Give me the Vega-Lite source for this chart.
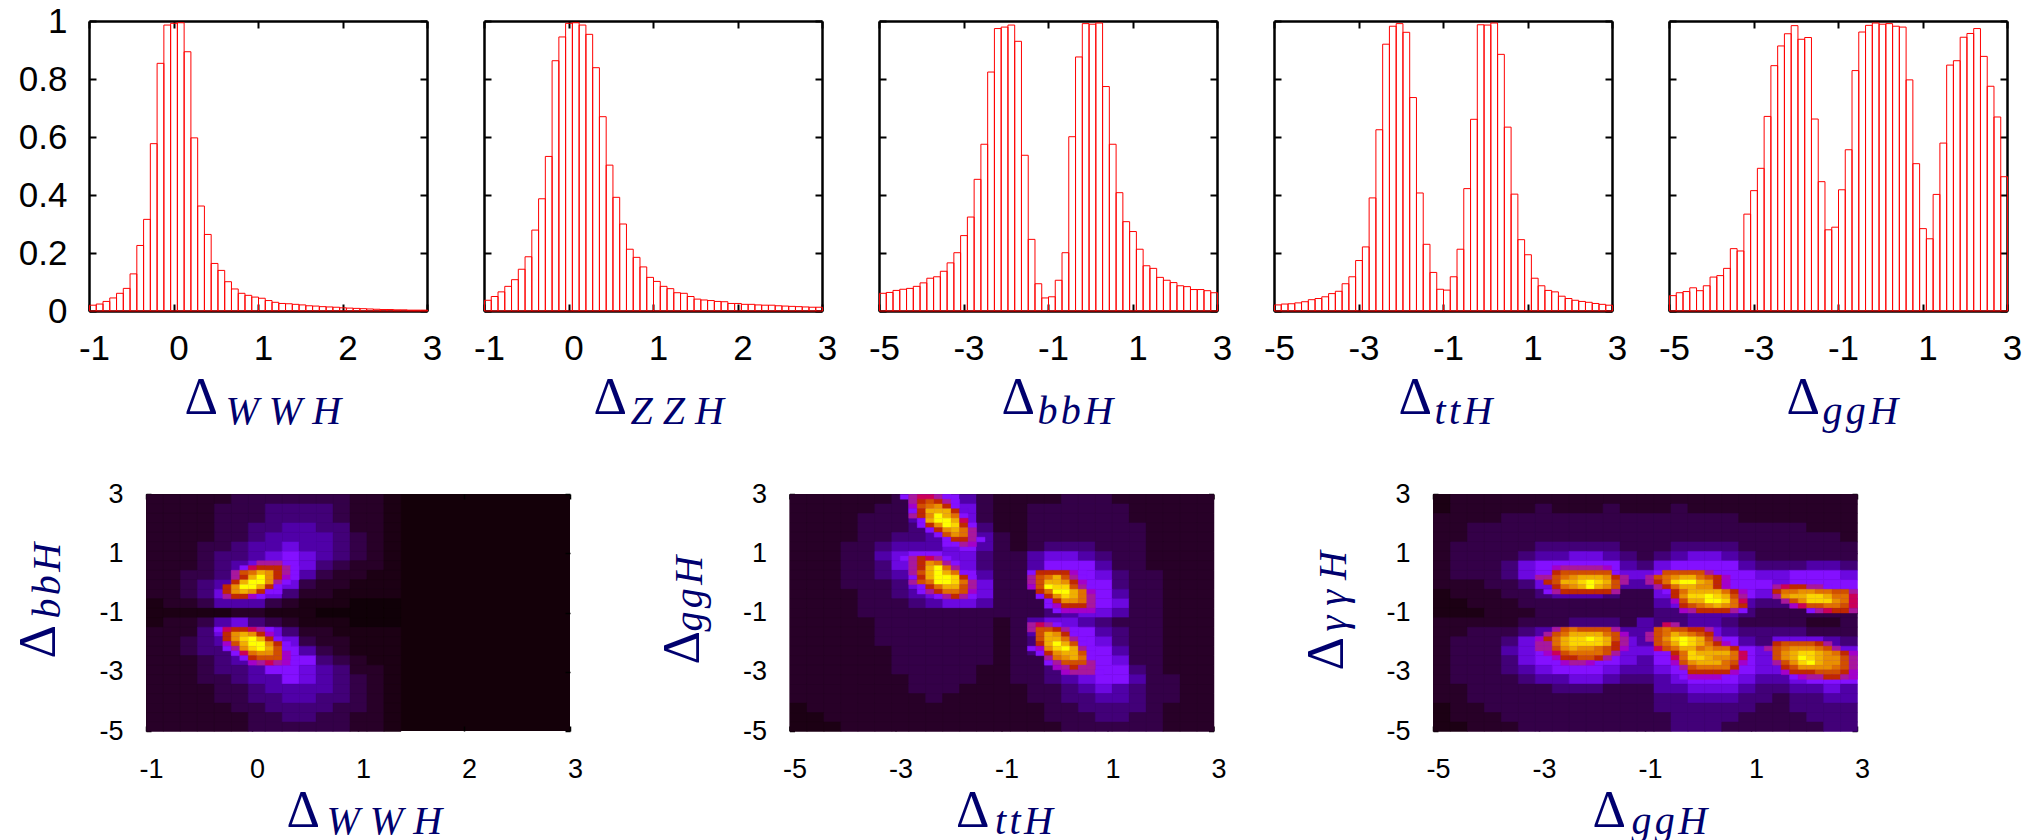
{"$schema":"https://vega.github.io/schema/vega-lite/v6.json","padding":{"left":12,"top":4,"right":0,"bottom":0},"background":"white","bounds":"flush","spacing":473,
"config":{"view":{"stroke":null},
"axis":{"grid":false,"labelFlush":false,"labelOverlap":false,"labelFont":"Liberation Sans","labelColor":"black","labelFontSize":35,"tickColor":"black","tickSize":-7,"tickWidth":2,"domainColor":"black","domainWidth":2.5,"zindex":1,"titleFont":"Liberation Serif","titleFontWeight":"normal","titleColor":"#00006e","titleAlign":"left","titleBaseline":"alphabetic"},
"axisBottom":{"labelOffset":5,"labelPadding":27,"titleFontSize":52},
"axisLeft":{"labelPadding":29,"titleFontSize":52,"titleAngle":270},
"axisTop":{"labels":false,"titleFontSize":40,"titleFontStyle":"italic"},
"axisRight":{"labels":false,"titleFontSize":40,"titleFontStyle":"italic","titleAngle":270}},
"vconcat":[
{"bounds":"flush","spacing":57,"hconcat":[
{"width":338,"height":290,"data":{"format":{"parse":null},"values":[{"x":[-0.96,-0.88,-0.8,-0.72,-0.64,-0.56,-0.48,-0.4,-0.32,-0.24,-0.16,-0.08,0,0.08,0.16,0.24,0.32,0.4,0.48,0.56,0.64,0.72,0.8,0.88,0.96,1.04,1.12,1.2,1.28,1.36,1.44,1.52,1.6,1.68,1.76,1.84,1.92,2,2.08,2.16,2.24,2.32,2.4,2.48,2.56,2.64,2.72,2.8,2.88,2.96],"y":[0.02,0.024,0.033,0.045,0.061,0.078,0.128,0.226,0.316,0.577,0.854,0.986,0.992,0.994,0.894,0.597,0.362,0.264,0.164,0.14,0.101,0.076,0.061,0.054,0.048,0.044,0.036,0.03,0.026,0.025,0.023,0.021,0.018,0.017,0.015,0.014,0.013,0.011,0.01,0.009,0.008,0.007,0.006,0.005,0.005,0.004,0.004,0.003,0.003,0.003]}]},"transform":[{"flatten":["x","y"]}],"resolve":{"axis":{"x":"independent","y":"independent"}},
"layer":[
{"mark":{"type":"bar","filled":false,"stroke":"#ff0000","strokeWidth":1,"binSpacing":0},"encoding":{"x":{"field":"x","type":"quantitative","bin":{"step":0.08,"extent":[-1,3],"anchor":-1},"scale":{"domain":[-1,3],"nice":false},"axis":{"orient":"bottom","values":[-1,0,1,2,3],"labelExpr":"''+datum.value","title":"Δ","titleX":95,"titleY":102}},"y":{"field":"y","type":"quantitative","scale":{"domain":[0,1],"nice":false},"axis":{"orient":"left","values":[0,0.2,0.4,0.6,0.8,1],"labelExpr":"''+datum.value","title":null}}}},
{"mark":{"type":"bar","opacity":0,"binSpacing":0},"encoding":{"x":{"field":"x","type":"quantitative","bin":{"step":0.08,"extent":[-1,3],"anchor":-1},"axis":{"orient":"top","values":[-1,0,1,2,3],"title":"W\u2005W\u2005H","titleX":136,"titleY":402}},"y":{"field":"y","type":"quantitative","axis":{"orient":"right","values":[0,0.2,0.4,0.6,0.8,1],"title":null}}}}
]},
{"width":338,"height":290,"data":{"format":{"parse":null},"values":[{"x":[-0.96,-0.88,-0.8,-0.72,-0.64,-0.56,-0.48,-0.4,-0.32,-0.24,-0.16,-0.08,0,0.08,0.16,0.24,0.32,0.4,0.48,0.56,0.64,0.72,0.8,0.88,0.96,1.04,1.12,1.2,1.28,1.36,1.44,1.52,1.6,1.68,1.76,1.84,1.92,2,2.08,2.16,2.24,2.32,2.4,2.48,2.56,2.64,2.72,2.8,2.88,2.96],"y":[0.037,0.05,0.066,0.085,0.108,0.144,0.187,0.279,0.387,0.533,0.863,0.945,0.992,0.994,0.986,0.954,0.839,0.67,0.503,0.392,0.3,0.213,0.185,0.152,0.116,0.102,0.085,0.077,0.063,0.061,0.05,0.041,0.038,0.036,0.033,0.032,0.026,0.026,0.023,0.023,0.021,0.02,0.02,0.018,0.017,0.016,0.015,0.014,0.013,0.013]}]},"transform":[{"flatten":["x","y"]}],"resolve":{"axis":{"x":"independent","y":"independent"}},
"layer":[
{"mark":{"type":"bar","filled":false,"stroke":"#ff0000","strokeWidth":1,"binSpacing":0},"encoding":{"x":{"field":"x","type":"quantitative","bin":{"step":0.08,"extent":[-1,3],"anchor":-1},"scale":{"domain":[-1,3],"nice":false},"axis":{"orient":"bottom","values":[-1,0,1,2,3],"labelExpr":"''+datum.value","title":"Δ","titleX":109,"titleY":102}},"y":{"field":"y","type":"quantitative","scale":{"domain":[0,1],"nice":false},"axis":{"orient":"left","values":[0,0.2,0.4,0.6,0.8,1],"labels":false,"title":null}}}},
{"mark":{"type":"bar","opacity":0,"binSpacing":0},"encoding":{"x":{"field":"x","type":"quantitative","bin":{"step":0.08,"extent":[-1,3],"anchor":-1},"axis":{"orient":"top","values":[-1,0,1,2,3],"title":"Z\u2005Z\u2005H","titleX":146,"titleY":402}},"y":{"field":"y","type":"quantitative","axis":{"orient":"right","values":[0,0.2,0.4,0.6,0.8,1],"title":null}}}}
]},
{"width":338,"height":290,"data":{"format":{"parse":null},"values":[{"x":[-4.92,-4.76,-4.6,-4.44,-4.28,-4.12,-3.96,-3.8,-3.64,-3.48,-3.32,-3.16,-3,-2.84,-2.68,-2.52,-2.36,-2.2,-2.04,-1.88,-1.72,-1.56,-1.4,-1.24,-1.08,-0.92,-0.76,-0.6,-0.44,-0.28,-0.12,0.04,0.2,0.36,0.52,0.68,0.84,1,1.16,1.32,1.48,1.64,1.8,1.96,2.12,2.28,2.44,2.6,2.76,2.92],"y":[0.061,0.064,0.071,0.075,0.078,0.085,0.097,0.113,0.118,0.137,0.166,0.201,0.26,0.324,0.454,0.575,0.824,0.974,0.979,0.986,0.93,0.537,0.247,0.094,0.045,0.049,0.106,0.201,0.601,0.876,0.991,0.989,0.993,0.774,0.575,0.408,0.308,0.274,0.213,0.156,0.147,0.116,0.106,0.098,0.087,0.084,0.074,0.074,0.07,0.063]}]},"transform":[{"flatten":["x","y"]}],"resolve":{"axis":{"x":"independent","y":"independent"}},
"layer":[
{"mark":{"type":"bar","filled":false,"stroke":"#ff0000","strokeWidth":1,"binSpacing":0},"encoding":{"x":{"field":"x","type":"quantitative","bin":{"step":0.16,"extent":[-5,3],"anchor":-5},"scale":{"domain":[-5,3],"nice":false},"axis":{"orient":"bottom","values":[-5,-3,-1,1,3],"labelExpr":"''+datum.value","title":"Δ","titleX":122,"titleY":102}},"y":{"field":"y","type":"quantitative","scale":{"domain":[0,1],"nice":false},"axis":{"orient":"left","values":[0,0.2,0.4,0.6,0.8,1],"labels":false,"title":null}}}},
{"mark":{"type":"bar","opacity":0,"binSpacing":0},"encoding":{"x":{"field":"x","type":"quantitative","bin":{"step":0.16,"extent":[-5,3],"anchor":-5},"axis":{"orient":"top","values":[-5,-3,-1,1,3],"title":"b\u200ab\u200aH","titleX":158,"titleY":402}},"y":{"field":"y","type":"quantitative","axis":{"orient":"right","values":[0,0.2,0.4,0.6,0.8,1],"title":null}}}}
]},
{"width":338,"height":290,"data":{"format":{"parse":null},"values":[{"x":[-4.92,-4.76,-4.6,-4.44,-4.28,-4.12,-3.96,-3.8,-3.64,-3.48,-3.32,-3.16,-3,-2.84,-2.68,-2.52,-2.36,-2.2,-2.04,-1.88,-1.72,-1.56,-1.4,-1.24,-1.08,-0.92,-0.76,-0.6,-0.44,-0.28,-0.12,0.04,0.2,0.36,0.52,0.68,0.84,1,1.16,1.32,1.48,1.64,1.8,1.96,2.12,2.28,2.44,2.6,2.76,2.92],"y":[0.021,0.024,0.025,0.028,0.032,0.039,0.043,0.049,0.06,0.068,0.094,0.118,0.174,0.221,0.39,0.625,0.92,0.982,0.991,0.961,0.736,0.407,0.23,0.133,0.075,0.072,0.118,0.213,0.422,0.661,0.987,0.986,0.993,0.885,0.634,0.403,0.246,0.194,0.113,0.087,0.071,0.066,0.051,0.043,0.037,0.033,0.03,0.026,0.023,0.02]}]},"transform":[{"flatten":["x","y"]}],"resolve":{"axis":{"x":"independent","y":"independent"}},
"layer":[
{"mark":{"type":"bar","filled":false,"stroke":"#ff0000","strokeWidth":1,"binSpacing":0},"encoding":{"x":{"field":"x","type":"quantitative","bin":{"step":0.16,"extent":[-5,3],"anchor":-5},"scale":{"domain":[-5,3],"nice":false},"axis":{"orient":"bottom","values":[-5,-3,-1,1,3],"labelExpr":"''+datum.value","title":"Δ","titleX":124,"titleY":102}},"y":{"field":"y","type":"quantitative","scale":{"domain":[0,1],"nice":false},"axis":{"orient":"left","values":[0,0.2,0.4,0.6,0.8,1],"labels":false,"title":null}}}},
{"mark":{"type":"bar","opacity":0,"binSpacing":0},"encoding":{"x":{"field":"x","type":"quantitative","bin":{"step":0.16,"extent":[-5,3],"anchor":-5},"axis":{"orient":"top","values":[-5,-3,-1,1,3],"title":"t\u200at\u200aH","titleX":160,"titleY":402}},"y":{"field":"y","type":"quantitative","axis":{"orient":"right","values":[0,0.2,0.4,0.6,0.8,1],"title":null}}}}
]},
{"width":338,"height":290,"data":{"format":{"parse":null},"values":[{"x":[-4.92,-4.76,-4.6,-4.44,-4.28,-4.12,-3.96,-3.8,-3.64,-3.48,-3.32,-3.16,-3,-2.84,-2.68,-2.52,-2.36,-2.2,-2.04,-1.88,-1.72,-1.56,-1.4,-1.24,-1.08,-0.92,-0.76,-0.6,-0.44,-0.28,-0.12,0.04,0.2,0.36,0.52,0.68,0.84,1,1.16,1.32,1.48,1.64,1.8,1.96,2.12,2.28,2.44,2.6,2.76,2.92],"y":[0.053,0.063,0.067,0.08,0.07,0.087,0.117,0.122,0.147,0.215,0.207,0.334,0.415,0.492,0.671,0.846,0.914,0.956,0.984,0.937,0.943,0.662,0.446,0.28,0.289,0.418,0.556,0.829,0.962,0.985,0.993,0.989,0.991,0.982,0.979,0.797,0.508,0.284,0.249,0.402,0.579,0.848,0.863,0.944,0.957,0.974,0.878,0.775,0.669,0.463]}]},"transform":[{"flatten":["x","y"]}],"resolve":{"axis":{"x":"independent","y":"independent"}},
"layer":[
{"mark":{"type":"bar","filled":false,"stroke":"#ff0000","strokeWidth":1,"binSpacing":0},"encoding":{"x":{"field":"x","type":"quantitative","bin":{"step":0.16,"extent":[-5,3],"anchor":-5},"scale":{"domain":[-5,3],"nice":false},"axis":{"orient":"bottom","values":[-5,-3,-1,1,3],"labelExpr":"''+datum.value","title":"Δ","titleX":117,"titleY":102}},"y":{"field":"y","type":"quantitative","scale":{"domain":[0,1],"nice":false},"axis":{"orient":"left","values":[0,0.2,0.4,0.6,0.8,1],"labels":false,"title":null}}}},
{"mark":{"type":"bar","opacity":0,"binSpacing":0},"encoding":{"x":{"field":"x","type":"quantitative","bin":{"step":0.16,"extent":[-5,3],"anchor":-5},"axis":{"orient":"top","values":[-5,-3,-1,1,3],"title":"g\u200ag\u200aH","titleX":153,"titleY":402}},"y":{"field":"y","type":"quantitative","axis":{"orient":"right","values":[0,0.2,0.4,0.6,0.8,1],"title":null}}}}
]}
]},
{"bounds":"flush","spacing":0,"hconcat":[
{"width":57,"height":10,"data":{"values":[{"a":1}]},"mark":{"type":"point","opacity":0},"encoding":{}},
{"bounds":"flush","spacing":219.5,"hconcat":[
{"width":424,"height":237,"view":{"fill":"#140009","stroke":null},"resolve":{"axis":{"x":"independent","y":"independent"}},
"data":{"format":{"parse":null},"values":[
{"k":0,"y":2.84,"x":[-0.92,-0.76,-0.6,-0.44,-0.28,-0.12,0.04,0.2,0.36,0.52,0.68,0.84,1,1.16,1.32],"v":[2,2,2,2,2,3,3,3,3,3,3,3,2,2,1]},
{"k":0,"y":2.52,"x":[-0.92,-0.76,-0.6,-0.44,-0.28,-0.12,0.04,0.2,0.36,0.52,0.68,0.84,1,1.16,1.32],"v":[2,2,2,2,3,3,3,4,4,4,4,3,2,2,1]},
{"k":0,"y":2.2,"x":[-0.92,-0.76,-0.6,-0.44,-0.28,-0.12,0.04,0.2,0.36,0.52,0.68,0.84,1,1.16,1.32],"v":[2,2,2,2,3,3,3,4,4,4,4,3,2,2,1]},
{"k":0,"y":1.88,"x":[-0.92,-0.76,-0.6,-0.44,-0.28,-0.12,0.04,0.2,0.36,0.52,0.68,0.84,1,1.16,1.32],"v":[2,2,2,2,3,3,4,4,5,5,4,4,2,2,1]},
{"k":0,"y":1.56,"x":[-0.92,-0.76,-0.6,-0.44,-0.28,-0.12,0.04,0.2,0.36,0.52,0.68,0.84,1,1.16,1.32],"v":[2,2,2,2,3,3,4,5,5,5,5,4,3,2,1]},
{"k":0,"y":1.24,"x":[-0.92,-0.76,-0.6,-0.44,-0.28,-0.12,0.04,0.2,0.36,0.52,0.68,0.84,1,1.16,1.32],"v":[2,2,2,3,3,4,5,5,6,5,5,4,3,2,1]},
{"k":0,"y":0.92,"x":[-0.92,-0.76,-0.6,-0.44,-0.28,-0.12,0.04,0.2,0.36,0.52,0.68,0.84,1,1.16,1.32],"v":[2,2,2,3,4,4,5,6,7,6,5,4,3,2,1]},
{"k":0,"y":0.6,"x":[-0.92,-0.76,-0.6,-0.44,-0.28,-0.12,0.04,0.2,0.36,0.52,0.68,0.84,1,1.16,1.32],"v":[2,2,2,3,4,5,6,7,7,6,4,3,2,2,1]},
{"k":0,"y":0.28,"x":[-0.92,-0.76,-0.6,-0.44,-0.28,-0.12,0.04,0.2,0.36,0.52,0.68,0.84,1,1.16,1.32],"v":[2,2,3,3,4,6,7,7,7,5,3,2,2,1,1]},
{"k":0,"y":-0.04,"x":[-0.92,-0.76,-0.6,-0.44,-0.28,-0.12,0.04,0.2,0.36,0.52,0.68,0.84,1,1.16,1.32],"v":[2,2,3,4,5,7,7,7,6,3,2,2,1,1,1]},
{"k":0,"y":-0.36,"x":[-0.92,-0.76,-0.6,-0.44,-0.28,-0.12,0.04,0.2,0.36,0.52,0.68,0.84,1,1.16,1.32],"v":[2,2,3,4,6,7,7,6,4,2,2,1,1,1,1]},
{"k":0,"y":-0.68,"x":[-0.92,-0.76,-0.6,-0.44,-0.28,-0.12,0.04,0.2,0.36,0.52,0.68,0.84,1,1.16,1.32],"v":[1,2,2,3,5,5,5,3,2,1,1,1,0,0,0]},
{"k":0,"y":-1,"x":[-0.92,-0.76,-0.6,-0.44,-0.28,-0.12,0.04,0.2,0.36,0.52,0.68,0.84,1,1.16,1.32],"v":[1,1,1,1,1,2,2,1,1,1,0,0,0,0,0]},
{"k":0,"y":-1.32,"x":[-0.92,-0.76,-0.6,-0.44,-0.28,-0.12,0.04,0.2,0.36,0.52,0.68,0.84,1,1.16,1.32],"v":[1,2,2,3,5,6,4,3,2,1,1,1,0,0,0]},
{"k":0,"y":-1.64,"x":[-0.92,-0.76,-0.6,-0.44,-0.28,-0.12,0.04,0.2,0.36,0.52,0.68,0.84,1,1.16,1.32],"v":[2,2,2,4,6,7,7,6,4,2,2,1,1,1,1]},
{"k":0,"y":-1.96,"x":[-0.92,-0.76,-0.6,-0.44,-0.28,-0.12,0.04,0.2,0.36,0.52,0.68,0.84,1,1.16,1.32],"v":[2,2,3,4,5,7,7,7,6,3,2,2,1,1,1]},
{"k":0,"y":-2.28,"x":[-0.92,-0.76,-0.6,-0.44,-0.28,-0.12,0.04,0.2,0.36,0.52,0.68,0.84,1,1.16,1.32],"v":[2,2,3,4,4,6,7,7,7,5,3,2,1,1,1]},
{"k":0,"y":-2.6,"x":[-0.92,-0.76,-0.6,-0.44,-0.28,-0.12,0.04,0.2,0.36,0.52,0.68,0.84,1,1.16,1.32],"v":[2,2,2,3,4,5,6,7,7,7,4,3,2,1,1]},
{"k":0,"y":-2.92,"x":[-0.92,-0.76,-0.6,-0.44,-0.28,-0.12,0.04,0.2,0.36,0.52,0.68,0.84,1,1.16,1.32],"v":[2,2,2,3,4,4,5,7,7,6,5,4,2,2,1]},
{"k":0,"y":-3.24,"x":[-0.92,-0.76,-0.6,-0.44,-0.28,-0.12,0.04,0.2,0.36,0.52,0.68,0.84,1,1.16,1.32],"v":[2,2,2,3,3,4,5,5,7,6,5,4,3,2,1]},
{"k":0,"y":-3.56,"x":[-0.92,-0.76,-0.6,-0.44,-0.28,-0.12,0.04,0.2,0.36,0.52,0.68,0.84,1,1.16,1.32],"v":[2,2,2,2,3,3,4,5,5,5,5,4,3,2,1]},
{"k":0,"y":-3.88,"x":[-0.92,-0.76,-0.6,-0.44,-0.28,-0.12,0.04,0.2,0.36,0.52,0.68,0.84,1,1.16,1.32],"v":[2,2,2,2,3,3,4,4,5,5,4,4,3,2,1]},
{"k":0,"y":-4.2,"x":[-0.92,-0.76,-0.6,-0.44,-0.28,-0.12,0.04,0.2,0.36,0.52,0.68,0.84,1,1.16,1.32],"v":[2,2,2,2,2,3,3,4,4,4,4,3,3,2,1]},
{"k":0,"y":-4.52,"x":[-0.92,-0.76,-0.6,-0.44,-0.28,-0.12,0.04,0.2,0.36,0.52,0.68,0.84,1,1.16,1.32],"v":[2,2,2,2,2,2,3,3,4,4,3,3,2,2,1]},
{"k":0,"y":-4.84,"x":[-0.92,-0.76,-0.6,-0.44,-0.28,-0.12,0.04,0.2,0.36,0.52,0.68,0.84,1,1.16,1.32],"v":[2,2,2,2,2,2,3,3,3,3,3,3,2,2,1]},
{"k":1,"y":0.68,"x":[0.08,0.16,0.24],"v":[8,8,8]},
{"k":1,"y":0.52,"x":[-0.08,0,0.08,0.16,0.24,0.32,0.4],"v":[7,8.5,9,9,9,8,7]},
{"k":1,"y":0.36,"x":[-0.16,-0.08,0,0.08,0.16,0.24,0.32,0.4],"v":[8,9.5,10,11,10.5,9,8,7]},
{"k":1,"y":0.2,"x":[-0.16,-0.08,0,0.08,0.16,0.24,0.32,0.4],"v":[8,9,11,12,10.5,9,7.5,7]},
{"k":1,"y":0.04,"x":[-0.16,-0.08,0,0.08,0.16,0.24,0.32],"v":[9,11,12,12,10.5,8,7]},
{"k":1,"y":-0.12,"x":[-0.24,-0.16,-0.08,0,0.08,0.16,0.24],"v":[9,10.5,12,12,11,9,7]},
{"k":1,"y":-0.28,"x":[-0.24,-0.16,-0.08,0,0.08,0.16,0.24],"v":[9,10.5,11,10.5,9,7,7]},
{"k":1,"y":-0.44,"x":[-0.24,-0.16,-0.08,0,0.08],"v":[8,9,9,7.5,7]},
{"k":1,"y":-1.56,"x":[-0.32,-0.24,-0.16,-0.08,0,0.08,0.16],"v":[7,8.5,9,9,8.5,8,7]},
{"k":1,"y":-1.72,"x":[-0.24,-0.16,-0.08,0,0.08,0.16],"v":[9,10.5,11,10.5,9,7.5]},
{"k":1,"y":-1.88,"x":[-0.24,-0.16,-0.08,0,0.08,0.16,0.24],"v":[9,10.5,11.5,12,11,9,7]},
{"k":1,"y":-2.04,"x":[-0.24,-0.16,-0.08,0,0.08,0.16,0.24,0.32],"v":[7.5,9.5,11,12,12,10.5,9,7]},
{"k":1,"y":-2.2,"x":[-0.24,-0.16,-0.08,0,0.08,0.16,0.24,0.32],"v":[7,8,10.5,11.5,12,11,9.5,7]},
{"k":1,"y":-2.36,"x":[-0.16,-0.08,0,0.08,0.16,0.24,0.32],"v":[7,8.5,10,10.5,10.5,9.5,7.5]},
{"k":1,"y":-2.52,"x":[-0.08,0,0.08,0.16,0.24,0.32],"v":[7,9,9.5,9.5,9.5,7.5]},
{"k":1,"y":-2.68,"x":[0,0.08,0.16,0.24,0.32,0.4],"v":[7.5,8,8.5,8,7.5,7]}
]},"transform":[{"flatten":["x","v"]}],
"layer":[
{"transform":[{"filter":{"field":"k","equal":0}}],"mark":{"type":"rect","strokeWidth":0.5},"encoding":{"x":{"field":"x","type":"quantitative","bin":{"step":0.16,"extent":[-1,3],"anchor":-1},"scale":{"domain":[-1,3],"nice":false},"axis":{"orient":"bottom","values":[-1,0,1,2,3],"labelExpr":"''+datum.value","labelFontSize":27,"labelPadding":30,"tickSize":-5,"tickWidth":1.5,"domain":false,"title":"Δ","titleX":140,"titleY":95}},"y":{"field":"y","type":"quantitative","bin":{"step":0.32,"extent":[-5,3],"anchor":-5},"scale":{"domain":[-5,3],"nice":false},"axis":{"orient":"left","values":[-5,-3,-1,1,3],"labelExpr":"''+datum.value","labelFontSize":27,"labelPadding":28,"tickSize":-5,"tickWidth":1.5,"domain":false,"title":"Δ","titleX":-92,"titleY":164}},"color":{"field":"v","type":"quantitative","legend":null,"scale":{"domain":[0,1,2,3,4,5,6,7,8,9,10,11,12],"range":["#100008","#1c0014","#280028","#340048","#420078","#5000a8","#6c08e0","#8410ff","#a8189c","#c02800","#e07000","#f0b000","#ffff00"]}},"stroke":{"field":"v","type":"quantitative","legend":null,"scale":{"domain":[0,1,2,3,4,5,6,7,8,9,10,11,12],"range":["#100008","#1c0014","#280028","#340048","#420078","#5000a8","#6c08e0","#8410ff","#a8189c","#c02800","#e07000","#f0b000","#ffff00"]}}}},
{"transform":[{"filter":{"field":"k","equal":1}}],"mark":{"type":"rect","strokeWidth":0.4},"encoding":{"x":{"field":"x","type":"quantitative","bin":{"step":0.08,"extent":[-1,3],"anchor":-1},"axis":{"orient":"top","values":[-1,0,1,2,3],"tickSize":-5,"tickWidth":1.5,"domain":false,"title":"W\u2005W\u2005H","titleX":180,"titleY":339}},"y":{"field":"y","type":"quantitative","bin":{"step":0.16,"extent":[-5,3],"anchor":-5},"axis":{"orient":"right","values":[-5,-3,-1,1,3],"tickSize":-5,"tickWidth":1.5,"domain":false,"title":"b\u200ab\u200aH","titleX":-511,"titleY":124}},"color":{"field":"v","type":"quantitative"},"stroke":{"field":"v","type":"quantitative"}}}
]},
{"width":424,"height":237,"view":{"fill":"#240020","stroke":null},"resolve":{"axis":{"x":"independent","y":"independent"}},
"data":{"format":{"parse":null},"values":[
{"k":0,"y":2.84,"x":[-4.84,-4.52,-4.2,-3.88,-3.56,-3.24,-2.92,-2.6,-2.28,-1.96,-1.64,-1.32,-1,-0.68,-0.36,-0.04,0.28,0.6,0.92,1.24,1.56,1.88,2.2,2.52,2.84],"v":[2,2,2,2,2,2,3,7,7,7,5,3,2,2,2,2,3,3,3,2,2,2,2,2,2]},
{"k":0,"y":2.52,"x":[-4.84,-4.52,-4.2,-3.88,-3.56,-3.24,-2.92,-2.6,-2.28,-1.96,-1.64,-1.32,-1,-0.68,-0.36,-0.04,0.28,0.6,0.92,1.24,1.56,1.88,2.2,2.52,2.84],"v":[2,2,2,2,2,3,3,6,7,7,6,3,2,2,3,3,3,3,3,3,2,2,2,2,2]},
{"k":0,"y":2.2,"x":[-4.84,-4.52,-4.2,-3.88,-3.56,-3.24,-2.92,-2.6,-2.28,-1.96,-1.64,-1.32,-1,-0.68,-0.36,-0.04,0.28,0.6,0.92,1.24,1.56,1.88,2.2,2.52,2.84],"v":[2,2,2,2,3,3,3,5,7,7,6,3,2,2,3,3,3,3,3,3,2,2,2,2,2]},
{"k":0,"y":1.88,"x":[-4.84,-4.52,-4.2,-3.88,-3.56,-3.24,-2.92,-2.6,-2.28,-1.96,-1.64,-1.32,-1,-0.68,-0.36,-0.04,0.28,0.6,0.92,1.24,1.56,1.88,2.2,2.52,2.84],"v":[2,2,2,2,3,3,3,4,6,7,7,4,2,2,3,3,3,3,3,3,3,2,2,2,2]},
{"k":0,"y":1.56,"x":[-4.84,-4.52,-4.2,-3.88,-3.56,-3.24,-2.92,-2.6,-2.28,-1.96,-1.64,-1.32,-1,-0.68,-0.36,-0.04,0.28,0.6,0.92,1.24,1.56,1.88,2.2,2.52,2.84],"v":[2,2,2,2,3,3,4,4,5,7,7,5,3,2,3,3,3,3,3,3,3,2,2,2,2]},
{"k":0,"y":1.24,"x":[-4.84,-4.52,-4.2,-3.88,-3.56,-3.24,-2.92,-2.6,-2.28,-1.96,-1.64,-1.32,-1,-0.68,-0.36,-0.04,0.28,0.6,0.92,1.24,1.56,1.88,2.2,2.52,2.84],"v":[2,2,2,3,3,4,5,5,5,6,7,5,3,2,3,4,4,4,3,3,3,2,2,2,2]},
{"k":0,"y":0.92,"x":[-4.84,-4.52,-4.2,-3.88,-3.56,-3.24,-2.92,-2.6,-2.28,-1.96,-1.64,-1.32,-1,-0.68,-0.36,-0.04,0.28,0.6,0.92,1.24,1.56,1.88,2.2,2.52,2.84],"v":[2,2,2,3,3,5,6,7,7,6,6,4,3,3,5,6,6,5,4,3,3,2,2,2,2]},
{"k":0,"y":0.6,"x":[-4.84,-4.52,-4.2,-3.88,-3.56,-3.24,-2.92,-2.6,-2.28,-1.96,-1.64,-1.32,-1,-0.68,-0.36,-0.04,0.28,0.6,0.92,1.24,1.56,1.88,2.2,2.52,2.84],"v":[2,2,2,3,3,4,6,7,7,7,6,4,3,3,5,7,7,7,5,3,3,2,2,2,2]},
{"k":0,"y":0.28,"x":[-4.84,-4.52,-4.2,-3.88,-3.56,-3.24,-2.92,-2.6,-2.28,-1.96,-1.64,-1.32,-1,-0.68,-0.36,-0.04,0.28,0.6,0.92,1.24,1.56,1.88,2.2,2.52,2.84],"v":[2,2,2,3,3,4,5,7,7,7,7,5,3,3,5,7,7,7,6,4,3,3,2,2,2]},
{"k":0,"y":-0.04,"x":[-4.84,-4.52,-4.2,-3.88,-3.56,-3.24,-2.92,-2.6,-2.28,-1.96,-1.64,-1.32,-1,-0.68,-0.36,-0.04,0.28,0.6,0.92,1.24,1.56,1.88,2.2,2.52,2.84],"v":[2,2,2,3,3,3,4,6,7,7,7,6,3,3,4,6,7,7,7,4,3,3,2,2,2]},
{"k":0,"y":-0.36,"x":[-4.84,-4.52,-4.2,-3.88,-3.56,-3.24,-2.92,-2.6,-2.28,-1.96,-1.64,-1.32,-1,-0.68,-0.36,-0.04,0.28,0.6,0.92,1.24,1.56,1.88,2.2,2.52,2.84],"v":[2,2,2,2,3,3,4,5,6,7,7,6,3,3,3,5,7,7,7,5,3,3,2,2,2]},
{"k":0,"y":-0.68,"x":[-4.84,-4.52,-4.2,-3.88,-3.56,-3.24,-2.92,-2.6,-2.28,-1.96,-1.64,-1.32,-1,-0.68,-0.36,-0.04,0.28,0.6,0.92,1.24,1.56,1.88,2.2,2.52,2.84],"v":[2,2,2,2,3,3,3,4,5,6,6,5,3,3,3,4,6,7,7,6,3,3,2,2,2]},
{"k":0,"y":-1,"x":[-4.84,-4.52,-4.2,-3.88,-3.56,-3.24,-2.92,-2.6,-2.28,-1.96,-1.64,-1.32,-1,-0.68,-0.36,-0.04,0.28,0.6,0.92,1.24,1.56,1.88,2.2,2.52,2.84],"v":[2,2,2,2,3,3,3,3,3,3,3,3,3,3,3,4,5,6,6,5,3,3,2,2,2]},
{"k":0,"y":-1.32,"x":[-4.84,-4.52,-4.2,-3.88,-3.56,-3.24,-2.92,-2.6,-2.28,-1.96,-1.64,-1.32,-1,-0.68,-0.36,-0.04,0.28,0.6,0.92,1.24,1.56,1.88,2.2,2.52,2.84],"v":[2,2,2,2,2,3,3,3,3,3,3,3,2,3,5,6,6,5,4,3,3,3,2,2,2]},
{"k":0,"y":-1.64,"x":[-4.84,-4.52,-4.2,-3.88,-3.56,-3.24,-2.92,-2.6,-2.28,-1.96,-1.64,-1.32,-1,-0.68,-0.36,-0.04,0.28,0.6,0.92,1.24,1.56,1.88,2.2,2.52,2.84],"v":[2,2,2,2,2,3,3,3,3,3,3,3,2,3,5,7,7,7,5,4,3,3,2,2,2]},
{"k":0,"y":-1.96,"x":[-4.84,-4.52,-4.2,-3.88,-3.56,-3.24,-2.92,-2.6,-2.28,-1.96,-1.64,-1.32,-1,-0.68,-0.36,-0.04,0.28,0.6,0.92,1.24,1.56,1.88,2.2,2.52,2.84],"v":[2,2,2,2,2,3,3,3,3,3,3,3,2,3,4,7,7,7,6,4,3,3,2,2,2]},
{"k":0,"y":-2.28,"x":[-4.84,-4.52,-4.2,-3.88,-3.56,-3.24,-2.92,-2.6,-2.28,-1.96,-1.64,-1.32,-1,-0.68,-0.36,-0.04,0.28,0.6,0.92,1.24,1.56,1.88,2.2,2.52,2.84],"v":[2,2,2,2,2,2,3,3,3,3,3,3,2,3,4,6,7,7,7,5,3,3,2,2,2]},
{"k":0,"y":-2.6,"x":[-4.84,-4.52,-4.2,-3.88,-3.56,-3.24,-2.92,-2.6,-2.28,-1.96,-1.64,-1.32,-1,-0.68,-0.36,-0.04,0.28,0.6,0.92,1.24,1.56,1.88,2.2,2.52,2.84],"v":[2,2,2,2,2,2,3,3,3,3,3,3,2,3,3,5,7,7,7,6,3,3,2,2,2]},
{"k":0,"y":-2.92,"x":[-4.84,-4.52,-4.2,-3.88,-3.56,-3.24,-2.92,-2.6,-2.28,-1.96,-1.64,-1.32,-1,-0.68,-0.36,-0.04,0.28,0.6,0.92,1.24,1.56,1.88,2.2,2.52,2.84],"v":[2,2,2,2,2,2,3,3,3,3,3,2,2,3,3,4,6,7,7,7,4,3,2,2,2]},
{"k":0,"y":-3.24,"x":[-4.84,-4.52,-4.2,-3.88,-3.56,-3.24,-2.92,-2.6,-2.28,-1.96,-1.64,-1.32,-1,-0.68,-0.36,-0.04,0.28,0.6,0.92,1.24,1.56,1.88,2.2,2.52,2.84],"v":[2,2,2,2,2,2,2,3,3,3,3,2,2,3,3,4,5,6,7,7,5,3,3,2,2]},
{"k":0,"y":-3.56,"x":[-4.84,-4.52,-4.2,-3.88,-3.56,-3.24,-2.92,-2.6,-2.28,-1.96,-1.64,-1.32,-1,-0.68,-0.36,-0.04,0.28,0.6,0.92,1.24,1.56,1.88,2.2,2.52,2.84],"v":[2,2,2,2,2,2,2,3,3,3,2,2,2,2,3,3,4,5,6,5,4,3,3,2,2]},
{"k":0,"y":-3.88,"x":[-4.84,-4.52,-4.2,-3.88,-3.56,-3.24,-2.92,-2.6,-2.28,-1.96,-1.64,-1.32,-1,-0.68,-0.36,-0.04,0.28,0.6,0.92,1.24,1.56,1.88,2.2,2.52,2.84],"v":[2,2,2,2,2,2,2,2,3,2,2,2,2,2,3,3,4,4,5,5,4,3,3,2,2]},
{"k":0,"y":-4.2,"x":[-4.84,-4.52,-4.2,-3.88,-3.56,-3.24,-2.92,-2.6,-2.28,-1.96,-1.64,-1.32,-1,-0.68,-0.36,-0.04,0.28,0.6,0.92,1.24,1.56,1.88,2.2,2.52,2.84],"v":[1,2,2,2,2,2,2,2,2,2,2,2,2,2,2,3,3,4,4,4,4,3,2,2,2]},
{"k":0,"y":-4.52,"x":[-4.84,-4.52,-4.2,-3.88,-3.56,-3.24,-2.92,-2.6,-2.28,-1.96,-1.64,-1.32,-1,-0.68,-0.36,-0.04,0.28,0.6,0.92,1.24,1.56,1.88,2.2,2.52,2.84],"v":[1,1,2,2,2,2,2,2,2,2,2,2,2,2,2,3,3,3,4,4,3,3,2,2,2]},
{"k":0,"y":-4.84,"x":[-4.84,-4.52,-4.2,-3.88,-3.56,-3.24,-2.92,-2.6,-2.28,-1.96,-1.64,-1.32,-1,-0.68,-0.36,-0.04,0.28,0.6,0.92,1.24,1.56,1.88,2.2,2.52,2.84],"v":[1,1,1,2,2,2,2,2,2,2,2,2,2,2,2,2,3,3,3,3,3,3,2,2,2]},
{"k":1,"y":2.92,"x":[-2.84,-2.68,-2.52,-2.36,-2.2,-2.04],"v":[7,8,8.5,8.5,8,7]},
{"k":1,"y":2.76,"x":[-2.68,-2.52,-2.36,-2.2,-2.04,-1.88],"v":[8,9,9.5,9,8,7]},
{"k":1,"y":2.6,"x":[-2.68,-2.52,-2.36,-2.2,-2.04,-1.88],"v":[7.5,9.5,10,10.5,9,7]},
{"k":1,"y":2.44,"x":[-2.68,-2.52,-2.36,-2.2,-2.04,-1.88,-1.72],"v":[7,9,11,11,11,9,6]},
{"k":1,"y":2.28,"x":[-2.68,-2.52,-2.36,-2.2,-2.04,-1.88,-1.72],"v":[8,9,10.5,12,11,10,7]},
{"k":1,"y":2.12,"x":[-2.52,-2.36,-2.2,-2.04,-1.88,-1.72],"v":[7,11,12,12,11,8.5]},
{"k":1,"y":1.96,"x":[-2.52,-2.36,-2.2,-2.04,-1.88,-1.72,-1.56],"v":[7,9,10.5,12,11.5,9,7]},
{"k":1,"y":1.8,"x":[-2.36,-2.2,-2.04,-1.88,-1.72,-1.56],"v":[7,9,10.5,11,10,8]},
{"k":1,"y":1.64,"x":[-2.2,-2.04,-1.88,-1.72,-1.56],"v":[7,9.5,10.5,10,8]},
{"k":1,"y":1.48,"x":[-2.04,-1.88,-1.72,-1.56,-1.4],"v":[7,9,9,8,7]},
{"k":1,"y":1.32,"x":[-2.04,-1.88,-1.72,-1.56],"v":[7,7,8,7.5]},
{"k":1,"y":0.84,"x":[-2.84,-2.68,-2.52,-2.36,-2.2,-2.04],"v":[7,8,9,8.5,8,7]},
{"k":1,"y":0.68,"x":[-2.68,-2.52,-2.36,-2.2,-2.04,-1.88],"v":[8,9,10.5,10,8,7]},
{"k":1,"y":0.52,"x":[-2.68,-2.52,-2.36,-2.2,-2.04,-1.88],"v":[8,9,11,12,10,8]},
{"k":1,"y":0.36,"x":[-2.68,-2.52,-2.36,-2.2,-2.04,-1.88,-1.72],"v":[8,9.5,11,12,11,10,7]},
{"k":1,"y":0.2,"x":[-2.52,-2.36,-2.2,-2.04,-1.88,-1.72,-1.56],"v":[9,11,12,12,11.5,9,7]},
{"k":1,"y":0.04,"x":[-2.68,-2.52,-2.36,-2.2,-2.04,-1.88,-1.72,-1.56],"v":[8,9.5,10,12,12,11.5,10,8]},
{"k":1,"y":-0.12,"x":[-2.52,-2.36,-2.2,-2.04,-1.88,-1.72,-1.56],"v":[7,9,10,11,11,9.5,8]},
{"k":1,"y":-0.28,"x":[-2.52,-2.36,-2.2,-2.04,-1.88,-1.72,-1.56],"v":[7,8,9,10,10,9.5,7.5]},
{"k":1,"y":-0.44,"x":[-2.2,-2.04,-1.88,-1.72,-1.56],"v":[7,8,9,8,7]},
{"k":1,"y":0.36,"x":[-0.44,-0.28,-0.12,0.04,0.2,0.36,0.52],"v":[7,9,9,9,9,7.5,7]},
{"k":1,"y":0.2,"x":[-0.44,-0.28,-0.12,0.04,0.2,0.36,0.52],"v":[8,9.5,10,11,9.5,8,7]},
{"k":1,"y":0.04,"x":[-0.44,-0.28,-0.12,0.04,0.2,0.36,0.52],"v":[8,9.5,11,11,10.5,9,7.5]},
{"k":1,"y":-0.12,"x":[-0.44,-0.28,-0.12,0.04,0.2,0.36,0.52,0.68],"v":[7.5,9.5,12,11.5,11.5,9.5,8,7]},
{"k":1,"y":-0.28,"x":[-0.28,-0.12,0.04,0.2,0.36,0.52,0.68],"v":[9,10,12,12,11,10,7.5]},
{"k":1,"y":-0.44,"x":[-0.28,-0.12,0.04,0.2,0.36,0.52,0.68],"v":[7,9,10.5,11.5,11,10,8]},
{"k":1,"y":-0.6,"x":[-0.12,0.04,0.2,0.36,0.52,0.68],"v":[7,9,10.5,10.5,10,8]},
{"k":1,"y":-0.76,"x":[-0.12,0.04,0.2,0.36,0.52,0.68],"v":[7,7.5,9,9,9,8]},
{"k":1,"y":-0.92,"x":[0.04,0.2,0.36,0.52,0.68],"v":[7,7.5,7.5,7.5,7.5]},
{"k":1,"y":-1.4,"x":[-0.44,-0.28,-0.12,0.04],"v":[8,8.5,8,7]},
{"k":1,"y":-1.56,"x":[-0.44,-0.28,-0.12,0.04,0.2,0.36],"v":[8,9.5,9.5,9,8,7]},
{"k":1,"y":-1.72,"x":[-0.28,-0.12,0.04,0.2,0.36],"v":[9.5,11,10.5,9,7]},
{"k":1,"y":-1.88,"x":[-0.28,-0.12,0.04,0.2,0.36,0.52],"v":[9.5,11,11,10,8,7]},
{"k":1,"y":-2.04,"x":[-0.28,-0.12,0.04,0.2,0.36,0.52],"v":[9,11,12,11,9.5,7]},
{"k":1,"y":-2.2,"x":[-0.44,-0.28,-0.12,0.04,0.2,0.36,0.52,0.68],"v":[7,7.5,10.5,11.5,12,11,8,7]},
{"k":1,"y":-2.36,"x":[-0.28,-0.12,0.04,0.2,0.36,0.52,0.68],"v":[7,9,10.5,11,11,9.5,7]},
{"k":1,"y":-2.52,"x":[-0.12,0.04,0.2,0.36,0.52,0.68],"v":[8,10,10.5,11,10,7]},
{"k":1,"y":-2.68,"x":[-0.12,0.04,0.2,0.36,0.52,0.68],"v":[7,8,9.5,9.5,9.5,8]},
{"k":1,"y":-2.84,"x":[0.04,0.2,0.36,0.52,0.68],"v":[7.5,8,9,8,8]},
{"k":1,"y":-3,"x":[0.2,0.36,0.52,0.68,0.84],"v":[7.5,8,8,8,7]}
]},"transform":[{"flatten":["x","v"]}],
"layer":[
{"transform":[{"filter":{"field":"k","equal":0}}],"mark":{"type":"rect","strokeWidth":0.5},"encoding":{"x":{"field":"x","type":"quantitative","bin":{"step":0.32,"extent":[-5,3],"anchor":-5},"scale":{"domain":[-5,3],"nice":false},"axis":{"orient":"bottom","values":[-5,-3,-1,1,3],"labelExpr":"''+datum.value","labelFontSize":27,"labelPadding":30,"tickSize":-5,"tickWidth":1.5,"domain":false,"title":"Δ","titleX":166,"titleY":95}},"y":{"field":"y","type":"quantitative","bin":{"step":0.32,"extent":[-5,3],"anchor":-5},"scale":{"domain":[-5,3],"nice":false},"axis":{"orient":"left","values":[-5,-3,-1,1,3],"labelExpr":"''+datum.value","labelFontSize":27,"labelPadding":28,"tickSize":-5,"tickWidth":1.5,"domain":false,"title":"Δ","titleX":-91,"titleY":170}},"color":{"field":"v","type":"quantitative","legend":null,"scale":{"domain":[0,1,2,3,4,5,6,7,8,9,10,11,12],"range":["#100008","#1c0014","#280028","#340048","#420078","#5000a8","#6c08e0","#8410ff","#a8189c","#c02800","#e07000","#f0b000","#ffff00"]}},"stroke":{"field":"v","type":"quantitative","legend":null,"scale":{"domain":[0,1,2,3,4,5,6,7,8,9,10,11,12],"range":["#100008","#1c0014","#280028","#340048","#420078","#5000a8","#6c08e0","#8410ff","#a8189c","#c02800","#e07000","#f0b000","#ffff00"]}}}},
{"transform":[{"filter":{"field":"k","equal":1}}],"mark":{"type":"rect","strokeWidth":0.4},"encoding":{"x":{"field":"x","type":"quantitative","bin":{"step":0.16,"extent":[-5,3],"anchor":-5},"axis":{"orient":"top","values":[-5,-3,-1,1,3],"tickSize":-5,"tickWidth":1.5,"domain":false,"title":"t\u200at\u200aH","titleX":205,"titleY":339}},"y":{"field":"y","type":"quantitative","bin":{"step":0.16,"extent":[-5,3],"anchor":-5},"axis":{"orient":"right","values":[-5,-3,-1,1,3],"tickSize":-5,"tickWidth":1.5,"domain":false,"title":"g\u200ag\u200aH","titleX":-512,"titleY":137}},"color":{"field":"v","type":"quantitative"},"stroke":{"field":"v","type":"quantitative"}}}
]},
{"width":424,"height":237,"view":{"fill":"#240020","stroke":null},"resolve":{"axis":{"x":"independent","y":"independent"}},
"data":{"format":{"parse":null},"values":[
{"k":0,"y":2.84,"x":[-4.84,-4.52,-4.2,-3.88,-3.56,-3.24,-2.92,-2.6,-2.28,-1.96,-1.64,-1.32,-1,-0.68,-0.36,-0.04,0.28,0.6,0.92,1.24,1.56,1.88,2.2,2.52,2.84],"v":[1,2,2,2,2,2,2,2,2,2,2,2,2,2,2,2,2,2,2,2,2,2,2,2,2]},
{"k":0,"y":2.52,"x":[-4.84,-4.52,-4.2,-3.88,-3.56,-3.24,-2.92,-2.6,-2.28,-1.96,-1.64,-1.32,-1,-0.68,-0.36,-0.04,0.28,0.6,0.92,1.24,1.56,1.88,2.2,2.52,2.84],"v":[1,2,2,2,2,2,3,2,2,2,3,2,2,2,3,2,2,2,2,2,2,2,2,2,2]},
{"k":0,"y":2.2,"x":[-4.84,-4.52,-4.2,-3.88,-3.56,-3.24,-2.92,-2.6,-2.28,-1.96,-1.64,-1.32,-1,-0.68,-0.36,-0.04,0.28,0.6,0.92,1.24,1.56,1.88,2.2,2.52,2.84],"v":[2,2,2,2,3,3,3,3,3,3,3,3,3,3,3,3,3,3,2,2,2,2,2,2,2]},
{"k":0,"y":1.88,"x":[-4.84,-4.52,-4.2,-3.88,-3.56,-3.24,-2.92,-2.6,-2.28,-1.96,-1.64,-1.32,-1,-0.68,-0.36,-0.04,0.28,0.6,0.92,1.24,1.56,1.88,2.2,2.52,2.84],"v":[2,2,3,3,3,3,3,3,3,3,3,3,3,3,3,3,3,3,3,3,3,3,2,2,2]},
{"k":0,"y":1.56,"x":[-4.84,-4.52,-4.2,-3.88,-3.56,-3.24,-2.92,-2.6,-2.28,-1.96,-1.64,-1.32,-1,-0.68,-0.36,-0.04,0.28,0.6,0.92,1.24,1.56,1.88,2.2,2.52,2.84],"v":[2,2,3,3,3,3,3,3,3,3,3,3,3,3,3,3,3,3,3,3,3,3,3,3,2]},
{"k":0,"y":1.24,"x":[-4.84,-4.52,-4.2,-3.88,-3.56,-3.24,-2.92,-2.6,-2.28,-1.96,-1.64,-1.32,-1,-0.68,-0.36,-0.04,0.28,0.6,0.92,1.24,1.56,1.88,2.2,2.52,2.84],"v":[2,3,3,3,3,3,4,4,4,4,4,3,3,3,4,4,4,4,3,3,3,3,3,3,3]},
{"k":0,"y":0.92,"x":[-4.84,-4.52,-4.2,-3.88,-3.56,-3.24,-2.92,-2.6,-2.28,-1.96,-1.64,-1.32,-1,-0.68,-0.36,-0.04,0.28,0.6,0.92,1.24,1.56,1.88,2.2,2.52,2.84],"v":[2,3,3,3,3,4,5,5,6,6,5,4,3,4,5,6,6,5,4,3,3,3,3,3,3]},
{"k":0,"y":0.6,"x":[-4.84,-4.52,-4.2,-3.88,-3.56,-3.24,-2.92,-2.6,-2.28,-1.96,-1.64,-1.32,-1,-0.68,-0.36,-0.04,0.28,0.6,0.92,1.24,1.56,1.88,2.2,2.52,2.84],"v":[2,3,3,3,4,6,7,7,7,7,7,5,4,6,7,7,7,7,5,4,4,4,5,5,4]},
{"k":0,"y":0.28,"x":[-4.84,-4.52,-4.2,-3.88,-3.56,-3.24,-2.92,-2.6,-2.28,-1.96,-1.64,-1.32,-1,-0.68,-0.36,-0.04,0.28,0.6,0.92,1.24,1.56,1.88,2.2,2.52,2.84],"v":[2,3,3,3,4,6,7,7,7,7,7,6,6,7,7,7,7,7,7,6,6,7,7,7,6]},
{"k":0,"y":-0.04,"x":[-4.84,-4.52,-4.2,-3.88,-3.56,-3.24,-2.92,-2.6,-2.28,-1.96,-1.64,-1.32,-1,-0.68,-0.36,-0.04,0.28,0.6,0.92,1.24,1.56,1.88,2.2,2.52,2.84],"v":[2,2,2,3,3,4,6,7,7,7,6,5,5,7,7,7,7,7,7,7,6,7,7,7,7]},
{"k":0,"y":-0.36,"x":[-4.84,-4.52,-4.2,-3.88,-3.56,-3.24,-2.92,-2.6,-2.28,-1.96,-1.64,-1.32,-1,-0.68,-0.36,-0.04,0.28,0.6,0.92,1.24,1.56,1.88,2.2,2.52,2.84],"v":[1,2,2,2,3,3,4,5,5,5,4,3,3,6,7,7,7,7,7,6,5,7,7,7,7]},
{"k":0,"y":-0.68,"x":[-4.84,-4.52,-4.2,-3.88,-3.56,-3.24,-2.92,-2.6,-2.28,-1.96,-1.64,-1.32,-1,-0.68,-0.36,-0.04,0.28,0.6,0.92,1.24,1.56,1.88,2.2,2.52,2.84],"v":[1,1,2,2,2,3,3,3,3,3,3,3,3,5,6,7,7,7,5,4,4,5,6,6,6]},
{"k":0,"y":-1,"x":[-4.84,-4.52,-4.2,-3.88,-3.56,-3.24,-2.92,-2.6,-2.28,-1.96,-1.64,-1.32,-1,-0.68,-0.36,-0.04,0.28,0.6,0.92,1.24,1.56,1.88,2.2,2.52,2.84],"v":[1,1,1,2,2,2,3,3,3,3,3,3,3,4,4,5,5,5,4,3,3,3,3,3,3]},
{"k":0,"y":-1.32,"x":[-4.84,-4.52,-4.2,-3.88,-3.56,-3.24,-2.92,-2.6,-2.28,-1.96,-1.64,-1.32,-1,-0.68,-0.36,-0.04,0.28,0.6,0.92,1.24,1.56,1.88,2.2,2.52,2.84],"v":[2,2,2,2,2,3,3,3,4,4,4,3,5,4,4,5,5,4,3,3,3,3,2,2,3]},
{"k":0,"y":-1.64,"x":[-4.84,-4.52,-4.2,-3.88,-3.56,-3.24,-2.92,-2.6,-2.28,-1.96,-1.64,-1.32,-1,-0.68,-0.36,-0.04,0.28,0.6,0.92,1.24,1.56,1.88,2.2,2.52,2.84],"v":[2,2,3,3,3,4,5,6,7,7,6,5,5,6,7,7,6,5,4,4,4,4,3,3,3]},
{"k":0,"y":-1.96,"x":[-4.84,-4.52,-4.2,-3.88,-3.56,-3.24,-2.92,-2.6,-2.28,-1.96,-1.64,-1.32,-1,-0.68,-0.36,-0.04,0.28,0.6,0.92,1.24,1.56,1.88,2.2,2.52,2.84],"v":[2,3,3,3,4,6,7,7,7,7,7,6,5,7,7,7,7,7,5,4,6,6,6,5,4]},
{"k":0,"y":-2.28,"x":[-4.84,-4.52,-4.2,-3.88,-3.56,-3.24,-2.92,-2.6,-2.28,-1.96,-1.64,-1.32,-1,-0.68,-0.36,-0.04,0.28,0.6,0.92,1.24,1.56,1.88,2.2,2.52,2.84],"v":[2,3,3,3,5,6,7,7,7,7,7,6,6,7,7,7,7,7,7,6,7,7,7,7,6]},
{"k":0,"y":-2.6,"x":[-4.84,-4.52,-4.2,-3.88,-3.56,-3.24,-2.92,-2.6,-2.28,-1.96,-1.64,-1.32,-1,-0.68,-0.36,-0.04,0.28,0.6,0.92,1.24,1.56,1.88,2.2,2.52,2.84],"v":[2,3,3,3,4,6,7,7,7,7,7,6,5,7,7,7,7,7,7,6,7,7,7,7,7]},
{"k":0,"y":-2.92,"x":[-4.84,-4.52,-4.2,-3.88,-3.56,-3.24,-2.92,-2.6,-2.28,-1.96,-1.64,-1.32,-1,-0.68,-0.36,-0.04,0.28,0.6,0.92,1.24,1.56,1.88,2.2,2.52,2.84],"v":[2,3,3,3,4,5,6,7,7,7,6,5,5,6,7,7,7,7,7,6,6,7,7,7,7]},
{"k":0,"y":-3.24,"x":[-4.84,-4.52,-4.2,-3.88,-3.56,-3.24,-2.92,-2.6,-2.28,-1.96,-1.64,-1.32,-1,-0.68,-0.36,-0.04,0.28,0.6,0.92,1.24,1.56,1.88,2.2,2.52,2.84],"v":[2,3,3,3,3,4,5,5,6,6,5,4,4,5,6,7,7,7,6,5,5,6,7,7,7]},
{"k":0,"y":-3.56,"x":[-4.84,-4.52,-4.2,-3.88,-3.56,-3.24,-2.92,-2.6,-2.28,-1.96,-1.64,-1.32,-1,-0.68,-0.36,-0.04,0.28,0.6,0.92,1.24,1.56,1.88,2.2,2.52,2.84],"v":[2,2,3,3,3,3,3,4,4,4,3,3,3,5,5,6,6,6,5,4,4,5,5,6,5]},
{"k":0,"y":-3.88,"x":[-4.84,-4.52,-4.2,-3.88,-3.56,-3.24,-2.92,-2.6,-2.28,-1.96,-1.64,-1.32,-1,-0.68,-0.36,-0.04,0.28,0.6,0.92,1.24,1.56,1.88,2.2,2.52,2.84],"v":[2,2,3,3,3,3,3,3,3,3,3,3,3,4,4,5,5,5,4,4,3,4,4,5,5]},
{"k":0,"y":-4.2,"x":[-4.84,-4.52,-4.2,-3.88,-3.56,-3.24,-2.92,-2.6,-2.28,-1.96,-1.64,-1.32,-1,-0.68,-0.36,-0.04,0.28,0.6,0.92,1.24,1.56,1.88,2.2,2.52,2.84],"v":[1,2,2,3,3,3,3,3,3,3,3,3,3,4,4,4,4,4,4,3,3,4,4,4,4]},
{"k":0,"y":-4.52,"x":[-4.84,-4.52,-4.2,-3.88,-3.56,-3.24,-2.92,-2.6,-2.28,-1.96,-1.64,-1.32,-1,-0.68,-0.36,-0.04,0.28,0.6,0.92,1.24,1.56,1.88,2.2,2.52,2.84],"v":[1,2,2,2,3,3,3,3,3,3,3,3,3,3,4,4,4,4,3,3,3,3,4,4,4]},
{"k":0,"y":-4.84,"x":[-4.84,-4.52,-4.2,-3.88,-3.56,-3.24,-2.92,-2.6,-2.28,-1.96,-1.64,-1.32,-1,-0.68,-0.36,-0.04,0.28,0.6,0.92,1.24,1.56,1.88,2.2,2.52,2.84],"v":[1,1,2,2,2,3,3,3,3,3,3,3,3,3,4,4,4,3,3,3,3,3,3,4,4]},
{"k":1,"y":0.52,"x":[-2.68,-2.52,-2.36,-2.2,-2.04,-1.88,-1.72],"v":[7.5,8,8,8,8,8,7.5]},
{"k":1,"y":0.36,"x":[-2.68,-2.52,-2.36,-2.2,-2.04,-1.88,-1.72],"v":[9,9.5,9.5,9.5,9.5,9.5,9.5]},
{"k":1,"y":0.2,"x":[-3,-2.84,-2.68,-2.52,-2.36,-2.2,-2.04,-1.88,-1.72,-1.56,-1.4],"v":[8,8,9.5,10,10.5,11,11,11,10.5,9,8]},
{"k":1,"y":0.04,"x":[-2.84,-2.68,-2.52,-2.36,-2.2,-2.04,-1.88,-1.72,-1.56,-1.4],"v":[9,9.5,11,11,11.5,12,11.5,11,9.5,8]},
{"k":1,"y":-0.12,"x":[-2.68,-2.52,-2.36,-2.2,-2.04,-1.88,-1.72,-1.56],"v":[9,10,10.5,11,12,11,10.5,9.5]},
{"k":1,"y":-0.28,"x":[-2.84,-2.68,-2.52,-2.36,-2.2,-2.04,-1.88,-1.72,-1.56],"v":[7,8,9,9,9,9,9,9,8]},
{"k":1,"y":0.36,"x":[-0.6,-0.44,-0.28,-0.12,0.04,0.2],"v":[9.5,9.5,9.5,9.5,9.5,8]},
{"k":1,"y":0.2,"x":[-0.92,-0.76,-0.6,-0.44,-0.28,-0.12,0.04,0.2,0.36,0.52],"v":[8,9.5,10,10.5,11,11,10,9.5,9,7.5]},
{"k":1,"y":0.04,"x":[-0.92,-0.76,-0.6,-0.44,-0.28,-0.12,0.04,0.2,0.36,0.52],"v":[8,9,10,11.5,12,12,11,10.5,9,7.5]},
{"k":1,"y":-0.12,"x":[-0.76,-0.6,-0.44,-0.28,-0.12,0.04,0.2,0.36,0.52],"v":[8,9,10,11,11,10.5,10.5,9,7.5]},
{"k":1,"y":-0.28,"x":[-0.6,-0.44,-0.28,-0.12,0.04,0.2,0.36,0.52,0.68,0.84],"v":[7,9,10,11,11,11,11,10,9,7.5]},
{"k":1,"y":-0.44,"x":[-0.44,-0.28,-0.12,0.04,0.2,0.36,0.52,0.68,0.84],"v":[9,10.5,11.5,11.5,12,11.5,11,9.5,8]},
{"k":1,"y":-0.6,"x":[-0.44,-0.28,-0.12,0.04,0.2,0.36,0.52,0.68,0.84],"v":[7.5,9.5,11,11,12,12,11.5,10,8.5]},
{"k":1,"y":-0.76,"x":[-0.28,-0.12,0.04,0.2,0.36,0.52,0.68,0.84],"v":[9,9.5,10,10.5,11,10.5,10,9]},
{"k":1,"y":-0.92,"x":[-0.28,-0.12,0.04,0.2,0.36,0.52,0.68,0.84],"v":[7.5,8,9,9,9,9,8,7]},
{"k":1,"y":-0.12,"x":[1.48,1.64,1.8,1.96,2.12,2.28,2.44],"v":[8,8.5,9,9,8,8,7]},
{"k":1,"y":-0.28,"x":[1.48,1.64,1.8,1.96,2.12,2.28,2.44,2.6,2.76,2.92],"v":[9,10,10,10.5,10.5,10,10,9.5,9.5,8]},
{"k":1,"y":-0.44,"x":[1.48,1.64,1.8,1.96,2.12,2.28,2.44,2.6,2.76,2.92],"v":[8,10.5,11,11,11.5,11.5,11,10,10,8.5]},
{"k":1,"y":-0.6,"x":[1.64,1.8,1.96,2.12,2.28,2.44,2.6,2.76,2.92],"v":[8,9.5,10.5,11.5,11.5,11.5,10.5,10,8.5]},
{"k":1,"y":-0.76,"x":[1.8,1.96,2.12,2.28,2.44,2.6,2.76,2.92],"v":[7.5,8.5,9.5,9.5,10,10,9.5,8.5]},
{"k":1,"y":-0.92,"x":[2.12,2.28,2.44,2.6,2.76,2.92],"v":[7,8,8.5,9,9,8]},
{"k":1,"y":-1.56,"x":[-2.68,-2.52,-2.36,-2.2,-2.04,-1.88,-1.72,-1.56],"v":[8,9.5,10,9.5,9.5,9.5,9.5,8]},
{"k":1,"y":-1.72,"x":[-2.84,-2.68,-2.52,-2.36,-2.2,-2.04,-1.88,-1.72,-1.56,-1.4],"v":[8,9.5,10,11,11,11,11,10,9.5,7.5]},
{"k":1,"y":-1.88,"x":[-3,-2.84,-2.68,-2.52,-2.36,-2.2,-2.04,-1.88,-1.72,-1.56,-1.4],"v":[7.5,9,10,11,11.5,11.5,12,11.5,11,9.5,8]},
{"k":1,"y":-2.04,"x":[-3,-2.84,-2.68,-2.52,-2.36,-2.2,-2.04,-1.88,-1.72,-1.56,-1.4],"v":[8,8,10,11,11.5,11.5,11.5,11.5,11,9,8]},
{"k":1,"y":-2.2,"x":[-3,-2.84,-2.68,-2.52,-2.36,-2.2,-2.04,-1.88,-1.72,-1.56,-1.4],"v":[8,8,9.5,10.5,11,10.5,10.5,10,9.5,9,7.5]},
{"k":1,"y":-2.36,"x":[-2.84,-2.68,-2.52,-2.36,-2.2,-2.04,-1.88,-1.72,-1.56],"v":[7.5,8.5,9.5,10,10,10,10,9.5,8]},
{"k":1,"y":-2.52,"x":[-2.68,-2.52,-2.36,-2.2,-2.04,-1.88,-1.72],"v":[7.5,9,9,9.5,9.5,9,8]},
{"k":1,"y":-2.68,"x":[-2.68,-2.52,-2.36,-2.2,-2.04],"v":[7,7.5,8,8,7.5]},
{"k":1,"y":-1.4,"x":[-0.6,-0.44],"v":[8.5,8]},
{"k":1,"y":-1.56,"x":[-0.76,-0.6,-0.44,-0.28,-0.12,0.04,0.2],"v":[9.5,10,9.5,9.5,9,9,8]},
{"k":1,"y":-1.72,"x":[-0.92,-0.76,-0.6,-0.44,-0.28,-0.12,0.04,0.2],"v":[8,9.5,10,11,10.5,10,9.5,9]},
{"k":1,"y":-1.88,"x":[-0.92,-0.76,-0.6,-0.44,-0.28,-0.12,0.04,0.2,0.36],"v":[8,9.5,10.5,11.5,12,11.5,11,9.5,8]},
{"k":1,"y":-2.04,"x":[-0.76,-0.6,-0.44,-0.28,-0.12,0.04,0.2,0.36,0.52],"v":[9.5,10,11,12,11.5,11,10,9,7.5]},
{"k":1,"y":-2.2,"x":[-0.76,-0.6,-0.44,-0.28,-0.12,0.04,0.2,0.36,0.52,0.68],"v":[8.5,9.5,10,11,11,10,10.5,10,10,9]},
{"k":1,"y":-2.36,"x":[-0.44,-0.28,-0.12,0.04,0.2,0.36,0.52,0.68,0.84],"v":[9,10,11.5,11,11,11,11,10,8.5]},
{"k":1,"y":-2.52,"x":[-0.44,-0.28,-0.12,0.04,0.2,0.36,0.52,0.68,0.84],"v":[8.5,10,11.5,11.5,11,10.5,10.5,10,8.5]},
{"k":1,"y":-2.68,"x":[-0.44,-0.28,-0.12,0.04,0.2,0.36,0.52,0.68,0.84],"v":[7.5,9.5,10.5,11,11,11,10,9.5,7.5]},
{"k":1,"y":-2.84,"x":[-0.28,-0.12,0.04,0.2,0.36,0.52,0.68],"v":[8,9.5,10,10,10,10,9]},
{"k":1,"y":-3,"x":[-0.12,0.04,0.2,0.36,0.52,0.68],"v":[9,9,9,9,9,7.5]},
{"k":1,"y":-3.16,"x":[-0.28,-0.12,0.04,0.2,0.36,0.52],"v":[7,7.5,7.5,7.5,7.5,7]},
{"k":1,"y":-2.04,"x":[1.48,1.64,1.8,1.96,2.12,2.28,2.44],"v":[9,9.5,9.5,9.5,9.5,9,8]},
{"k":1,"y":-2.2,"x":[1.32,1.48,1.64,1.8,1.96,2.12,2.28,2.44,2.6],"v":[8,9.5,10,10.5,10.5,10.5,10,9.5,8]},
{"k":1,"y":-2.36,"x":[1.48,1.64,1.8,1.96,2.12,2.28,2.44,2.6,2.76,2.92],"v":[9.5,10.5,11,11.5,11.5,11,10.5,10,9,7.5]},
{"k":1,"y":-2.52,"x":[1.48,1.64,1.8,1.96,2.12,2.28,2.44,2.6,2.76,2.92],"v":[9.5,10.5,11,12,11.5,11,10.5,10.5,9.5,8]},
{"k":1,"y":-2.68,"x":[1.48,1.64,1.8,1.96,2.12,2.28,2.44,2.6,2.76,2.92],"v":[8,9.5,10.5,11.5,12,11,10.5,10.5,9.5,8]},
{"k":1,"y":-2.84,"x":[1.64,1.8,1.96,2.12,2.28,2.44,2.6,2.76,2.92],"v":[9,9.5,10.5,10.5,10.5,10.5,10,9.5,8]},
{"k":1,"y":-3,"x":[1.64,1.8,1.96,2.12,2.28,2.44,2.6,2.76,2.92],"v":[7.5,9,9,9,9.5,9.5,9.5,9,7.5]},
{"k":1,"y":-3.16,"x":[1.8,1.96,2.12,2.28,2.44,2.6,2.76,2.92],"v":[7,7.5,8,8,9,9,8,7.5]}
]},"transform":[{"flatten":["x","v"]}],
"layer":[
{"transform":[{"filter":{"field":"k","equal":0}}],"mark":{"type":"rect","strokeWidth":0.5},"encoding":{"x":{"field":"x","type":"quantitative","bin":{"step":0.32,"extent":[-5,3],"anchor":-5},"scale":{"domain":[-5,3],"nice":false},"axis":{"orient":"bottom","values":[-5,-3,-1,1,3],"labelExpr":"''+datum.value","labelFontSize":27,"labelPadding":30,"tickSize":-5,"tickWidth":1.5,"domain":false,"title":"Δ","titleX":159,"titleY":95}},"y":{"field":"y","type":"quantitative","bin":{"step":0.32,"extent":[-5,3],"anchor":-5},"scale":{"domain":[-5,3],"nice":false},"axis":{"orient":"left","values":[-5,-3,-1,1,3],"labelExpr":"''+datum.value","labelFontSize":27,"labelPadding":28,"tickSize":-5,"tickWidth":1.5,"domain":false,"title":"Δ","titleX":-91,"titleY":176}},"color":{"field":"v","type":"quantitative","legend":null,"scale":{"domain":[0,1,2,3,4,5,6,7,8,9,10,11,12],"range":["#100008","#1c0014","#280028","#340048","#420078","#5000a8","#6c08e0","#8410ff","#a8189c","#c02800","#e07000","#f0b000","#ffff00"]}},"stroke":{"field":"v","type":"quantitative","legend":null,"scale":{"domain":[0,1,2,3,4,5,6,7,8,9,10,11,12],"range":["#100008","#1c0014","#280028","#340048","#420078","#5000a8","#6c08e0","#8410ff","#a8189c","#c02800","#e07000","#f0b000","#ffff00"]}}}},
{"transform":[{"filter":{"field":"k","equal":1}}],"mark":{"type":"rect","strokeWidth":0.4},"encoding":{"x":{"field":"x","type":"quantitative","bin":{"step":0.16,"extent":[-5,3],"anchor":-5},"axis":{"orient":"top","values":[-5,-3,-1,1,3],"tickSize":-5,"tickWidth":1.5,"domain":false,"title":"g\u200ag\u200aH","titleX":198,"titleY":339}},"y":{"field":"y","type":"quantitative","bin":{"step":0.16,"extent":[-5,3],"anchor":-5},"axis":{"orient":"right","values":[-5,-3,-1,1,3],"tickSize":-5,"tickWidth":1.5,"domain":false,"title":"γ\u2005γ\u2005H","titleX":-512,"titleY":137}},"color":{"field":"v","type":"quantitative"},"stroke":{"field":"v","type":"quantitative"}}}
]}
]}
]}
]}
